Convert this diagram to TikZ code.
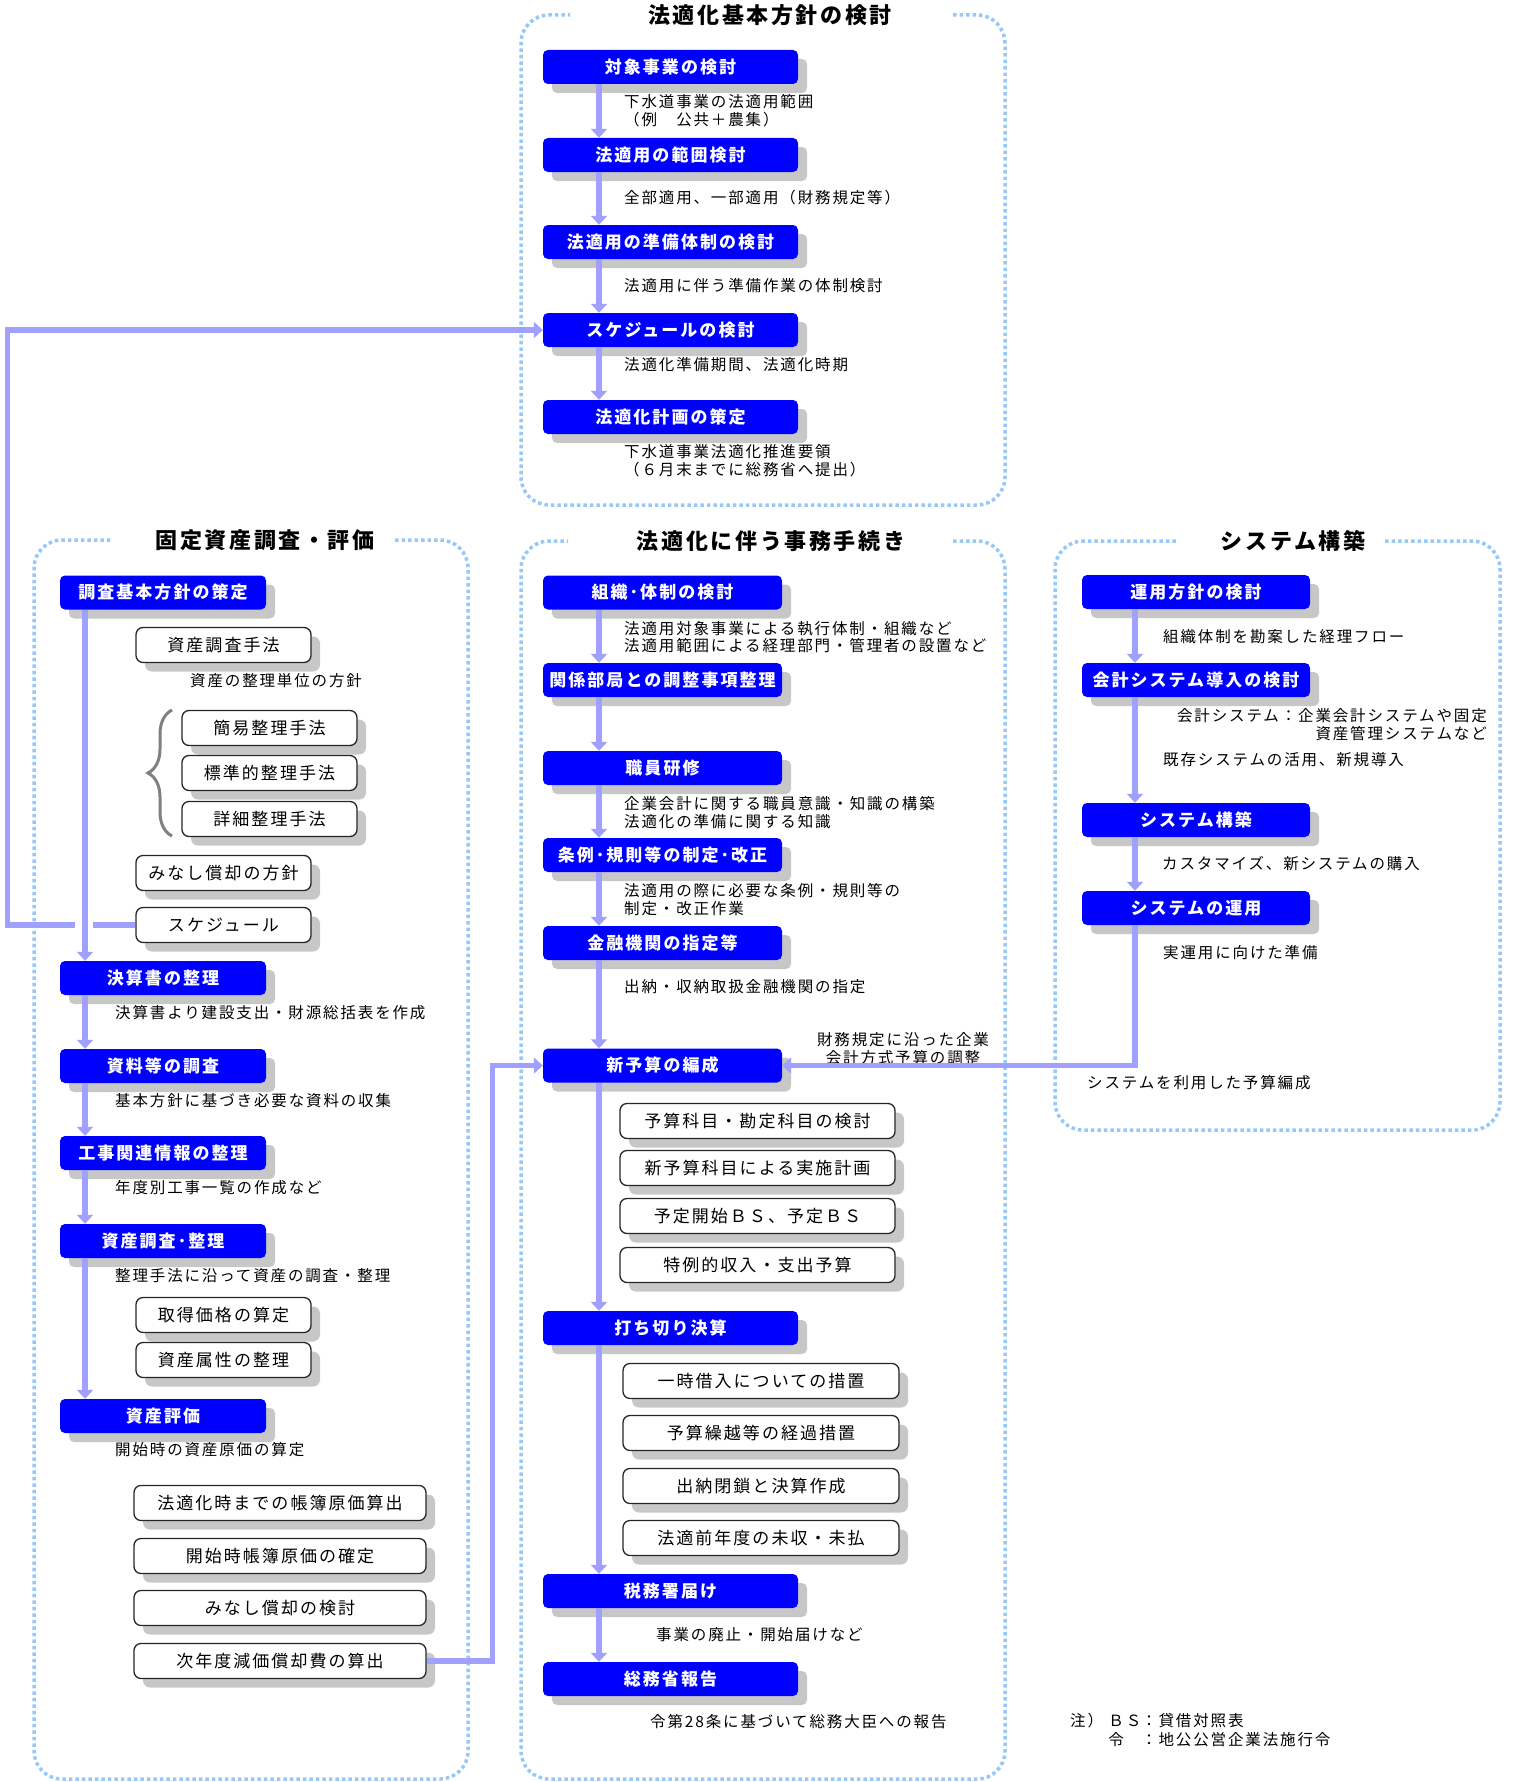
\documentclass[tikz,border=0pt]{standalone}
\usepackage{fontspec}
\setmainfont{Noto Sans CJK JP}[LetterSpace=12]
\usetikzlibrary{arrows.meta,shadows,decorations.pathreplacing}

\definecolor{flowblue}{RGB}{160,160,255}
\definecolor{framecol}{RGB}{150,200,250}
\definecolor{stepblue}{RGB}{0,0,255}

\newcommand\annfont{\fontsize{15.5pt}{17.5pt}\selectfont}
\newcommand\boxfont{\fontsize{17pt}{19pt}\selectfont\bfseries}
\newcommand\itemfont{\fontsize{17pt}{19pt}\selectfont}
\newcommand\titlefont{\fontsize{22pt}{24pt}\selectfont\bfseries}

\tikzset{
  stepbox/.style={fill=stepblue, text=white, rounded corners=5pt, inner sep=0pt,
    minimum height=34pt, font=\boxfont,
    drop shadow={shadow xshift=9pt, shadow yshift=-9pt, fill=black!22, opacity=1}},
  itembox/.style={draw=black!85, line width=1.3pt, fill=white, rounded corners=7pt,
    inner sep=0pt, minimum height=35pt, font=\itemfont,
    drop shadow={shadow xshift=9pt, shadow yshift=-9pt, fill=black!22, opacity=1}},
  note/.style={anchor=west, align=left, inner sep=0pt, font=\annfont},
  panel/.style={draw=framecol, line width=3.5pt, dash pattern=on 3.5pt off 3pt, rounded corners=28pt},
  paneltitle/.style={font=\titlefont, inner sep=0pt},
  flow/.style={draw=flowblue, line width=5.5pt, -{Triangle[width=16pt,length=9pt]}},
  flowline/.style={draw=flowblue, line width=5.5pt}
}

\begin{document}
\begin{tikzpicture}[x=1pt,y=-1pt]
\useasboundingbox (0,0) rectangle (1512,1782);

% panels
\draw[panel] (953,15) -- (1005,15) -- (1005,505) -- (521,505) -- (521,15) -- (570,15);
\draw[panel] (395,540) -- (468,540) -- (468,1779) -- (34,1779) -- (34,540) -- (112,540);
\draw[panel] (953,541) -- (1005,541) -- (1005,1779) -- (521,1779) -- (521,541) -- (568,541);
\draw[panel] (1385,541) -- (1500,541) -- (1500,1130) -- (1055,1130) -- (1055,541) -- (1176,541);

\node[paneltitle] (title1) at (770,15) {法適化基本方針の検討};
\node[paneltitle] (title2) at (265,540) {固定資産調査・評価};
\node[paneltitle] (title3) at (771,541) {法適化に伴う事務手続き};
\node[paneltitle] (title4) at (1293,541) {システム構築};

% column lines
\coordinate (cx) at (599,0);
\coordinate (lx) at (85,0);
\coordinate (rx) at (1135,0);

% top
\begin{scope}[every node/.style={stepbox, minimum width=255pt}]
  \node (t1) at (670.5,67) {対象事業の検討};
  \node (t2) at (670.5,155) {法適用の範囲検討};
  \node (t3) at (670.5,242) {法適用の準備体制の検討};
  \node (t4) at (670.5,330) {スケジュールの検討};
  \node (t5) at (670.5,417) {法適化計画の策定};
\end{scope}
\node[note] (tn1) at (624,110.5) {下水道事業の法適用範囲\\（例　公共＋農集）};
\node[note] (tn2) at (624,198) {全部適用、一部適用（財務規定等）};
\node[note] (tn3) at (624,286) {法適用に伴う準備作業の体制検討};
\node[note] (tn4) at (624,365) {法適化準備期間、法適化時期};
\node[note] (tn5) at (624,460.5) {下水道事業法適化推進要領\\（６月末までに総務省へ提出）};

% left
\begin{scope}[every node/.style={stepbox, minimum width=206pt}]
  \node (l1) at (163,592.5) {調査基本方針の策定};
  \node (l2) at (163,978) {決算書の整理};
  \node (l3) at (163,1066) {資料等の調査};
  \node (l4) at (163,1153) {工事関連情報の整理};
  \node (l5) at (163,1241) {資産調査･整理};
  \node (l6) at (163,1416) {資産評価};
\end{scope}
\begin{scope}[every node/.style={itembox, minimum width=175pt}]
  \node (la) at (223.5,645) {資産調査手法};
  \node (lb) at (269.5,728) {簡易整理手法};
  \node (lc) at (269.5,773) {標準的整理手法};
  \node (ld) at (269.5,819) {詳細整理手法};
  \node (le) at (223.5,873) {みなし償却の方針};
  \node (lsched) at (223.5,925) {スケジュール};
  \node (lf) at (223.5,1315) {取得価格の算定};
  \node (lg) at (223.5,1360) {資産属性の整理};
\end{scope}
\begin{scope}[every node/.style={itembox, minimum width=292pt}]
  \node (e1) at (280,1503) {法適化時までの帳簿原価算出};
  \node (e2) at (280,1556) {開始時帳簿原価の確定};
  \node (e3) at (280,1608) {みなし償却の検討};
  \node (e4) at (280,1661) {次年度減価償却費の算出};
\end{scope}
\draw[black!50, line width=3pt, decorate, decoration={brace, amplitude=24pt, aspect=0.5}]
  (172,836) -- (172,710);
\node[note] (ln1) at (190,681) {資産の整理単位の方針};
\node[note] (ln2) at (115,1013) {決算書より建設支出・財源総括表を作成};
\node[note] (ln3) at (115,1101) {基本方針に基づき必要な資料の収集};
\node[note] (ln4) at (115,1188) {年度別工事一覧の作成など};
\node[note] (ln5) at (115,1276) {整理手法に沿って資産の調査・整理};
\node[note] (ln6) at (115,1450) {開始時の資産原価の算定};

% center
\begin{scope}[every node/.style={stepbox, minimum width=239pt}]
  \node (c1) at (662.5,592.5) {組織･体制の検討};
  \node (c2) at (662.5,680) {関係部局との調整事項整理};
  \node (c3) at (662.5,768) {職員研修};
  \node (c4) at (662.5,855) {条例･規則等の制定･改正};
  \node (c5) at (662.5,943) {金融機関の指定等};
  \node (c6) at (662.5,1065.5) {新予算の編成};
\end{scope}
\begin{scope}[every node/.style={stepbox, minimum width=255pt}]
  \node (c7) at (670.5,1328) {打ち切り決算};
  \node (c8) at (670.5,1591) {税務署届け};
  \node (c9) at (670.5,1679) {総務省報告};
\end{scope}
\begin{scope}[every node/.style={itembox, minimum width=275pt}]
  \node (n1) at (757.5,1121) {予算科目・勘定科目の検討};
  \node (n2) at (757.5,1168) {新予算科目による実施計画};
  \node (n3) at (757.5,1216) {予定開始ＢＳ、予定ＢＳ};
  \node (n4) at (757.5,1265) {特例的収入・支出予算};
\end{scope}
\begin{scope}[every node/.style={itembox, minimum width=276pt}]
  \node (k1) at (761,1381) {一時借入についての措置};
  \node (k2) at (761,1433) {予算繰越等の経過措置};
  \node (k3) at (761,1486) {出納閉鎖と決算作成};
  \node (k4) at (761,1538) {法適前年度の未収・未払};
\end{scope}
\node[note] (cn1) at (624,637) {法適用対象事業による執行体制・組織など\\法適用範囲による経理部門・管理者の設置など};
\node[note] (cn3) at (624,812.5) {企業会計に関する職員意識・知識の構築\\法適化の準備に関する知識};
\node[note] (cn4) at (624,899.5) {法適用の際に必要な条例・規則等の\\制定・改正作業};
\node[note] (cn5) at (624,987) {出納・収納取扱金融機関の指定};
\node[note, anchor=center, align=center] (cn6) at (903,1048.5) {財務規定に沿った企業\\会計方式予算の調整};
\node[note] (cn8) at (656,1635) {事業の廃止・開始届けなど};
\node[note] (cn9) at (650,1722) {令第28条に基づいて総務大臣への報告};

% right
\begin{scope}[every node/.style={stepbox, minimum width=228pt}]
  \node (r1) at (1196,592) {運用方針の検討};
  \node (r2) at (1196,680) {会計システム導入の検討};
  \node (r3) at (1196,820) {システム構築};
  \node (r4) at (1196,908) {システムの運用};
\end{scope}
\node[note] (rn1) at (1163,637) {組織体制を勘案した経理フロー};
\node[note, anchor=east, align=right] (rn2) at (1487,724.5) {会計システム：企業会計システムや固定\\資産管理システムなど};
\node[note] (rn3) at (1163,760) {既存システムの活用、新規導入};
\node[note] (rn4) at (1162,864) {カスタマイズ、新システムの購入};
\node[note] (rn5) at (1163,953) {実運用に向けた準備};
\node[note] (rn6) at (1087,1083) {システムを利用した予算編成};

\node[note] (remark) at (1070,1732) {\begin{tabular}{@{}r@{}l@{}}注） ＢＳ&：貸借対照表\\令　&：地公公営企業法施行令\end{tabular}};

% connectors
\begin{scope}[every edge/.style={flow}]
  \path (t1.south -| cx) edge (t2.north -| cx);
  \path (t2.south -| cx) edge (t3.north -| cx);
  \path (t3.south -| cx) edge (t4.north -| cx);
  \path (t4.south -| cx) edge (t5.north -| cx);
  \path (l1.south -| lx) edge (l2.north -| lx);
  \path (l2.south -| lx) edge (l3.north -| lx);
  \path (l3.south -| lx) edge (l4.north -| lx);
  \path (l4.south -| lx) edge (l5.north -| lx);
  \path (l5.south -| lx) edge (l6.north -| lx);
  \path (c1.south -| cx) edge (c2.north -| cx);
  \path (c2.south -| cx) edge (c3.north -| cx);
  \path (c3.south -| cx) edge (c4.north -| cx);
  \path (c4.south -| cx) edge (c5.north -| cx);
  \path (c5.south -| cx) edge (c6.north -| cx);
  \path (c6.south -| cx) edge (c7.north -| cx);
  \path (c7.south -| cx) edge (c8.north -| cx);
  \path (c8.south -| cx) edge (c9.north -| cx);
  \path (r1.south -| rx) edge (r2.north -| rx);
  \path (r2.south -| rx) edge (r3.north -| rx);
  \path (r3.south -| rx) edge (r4.north -| rx);
\end{scope}
\draw[flowline] (lsched.west) -- ++(-42,0);
\draw[flow] ([xshift=-60pt]lsched.west) -- ++(-68,0) |- (t4.west);
\draw[flow] (e4.east) -- ++(66,0) |- (c6.west);
\draw[flow] (r4.south -| rx) |- (c6.east);
\end{tikzpicture}
\end{document}
